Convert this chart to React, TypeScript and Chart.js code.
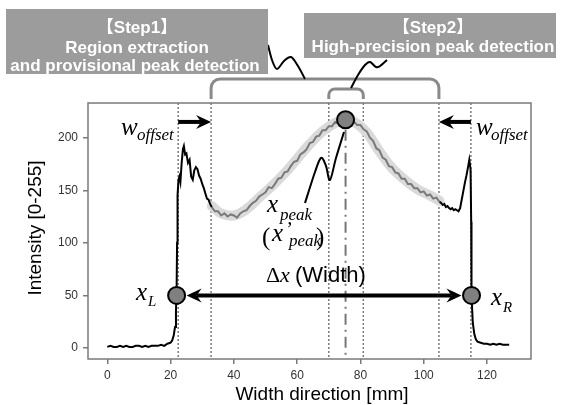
import React, { useEffect, useRef } from "react";
import { Chart, registerables } from "chart.js";

Chart.register(...registerables);

// ---------- data ----------
const xTickValues = [0, 20, 40, 60, 80, 100, 120];
const yTickValues = [0, 50, 100, 150, 200];

// left edge region (black)
const leftX = [0, 1, 2, 3, 4, 5, 6, 7, 8, 9, 10, 11, 12, 13, 14, 15, 16, 17, 18, 19, 20,
  20.5, 21, 21.4, 21.7, 21.9, 22.05, 22.2, 22.5, 22.8, 23.1, 23.5, 23.9, 24.2, 24.6,
  25, 25.5, 26, 26.5, 27, 27.5, 28, 28.5, 29, 29.5, 30, 30.5, 31, 31.5, 32, 32.5, 33];
const leftY = [1, 2, 1, 1, 2, 1, 2, 1, 1, 2, 2, 1, 2, 1, 2, 2, 2, 3, 2, 4, 5,
  7, 12, 20, 35, 55, 100, 145, 160, 163, 158, 176, 189, 192, 184,
  185, 176, 179, 163, 160, 169, 172, 170, 164, 161, 156, 152, 147, 142, 141, 137, 134];

// middle region (grey, measured)
const midX = [33, 34, 35, 36, 37, 38, 39, 40, 41, 42, 43, 44, 45, 46, 47, 48, 49, 50, 51, 52,
  53, 54, 55, 56, 57, 58, 59, 60, 61, 62, 63, 64, 65, 66, 67, 68, 69, 70, 71, 72,
  73, 74, 75, 76, 77, 78, 79, 80, 81, 82, 83, 84, 85, 86, 87, 88, 89, 90, 91, 92,
  93, 94, 95, 96, 97, 98, 99, 100, 101, 102, 103, 104, 105];
const midY = [134, 130, 130, 126, 128, 125, 127, 126, 124, 128, 130, 131, 135, 138, 140, 144, 146, 148, 153, 152,
  156, 161, 162, 167, 168, 173, 177, 178, 184, 186, 189, 195, 196, 201, 202, 207, 207, 211, 211, 215,
  214, 217, 216, 218, 215, 215, 212, 212, 208, 206, 200, 197, 190, 188, 181, 179, 173, 172, 167, 166,
  161, 161, 156, 156, 152, 152, 148, 149, 145, 146, 142, 143, 139];

// right edge region (black)
const rightX = [105, 105.5, 106, 106.5, 107, 107.5, 108, 108.5, 109, 109.5, 110, 110.5, 111, 111.5,
  112, 112.5, 113, 113.5, 114, 114.4, 114.8, 115, 115.1, 115.5, 116, 116.5, 117,
  118, 119, 120, 121, 122, 123, 124, 125, 126, 127];
const rightY = [139, 138, 136, 137, 134, 135, 133, 132, 133, 131, 132, 131, 130, 133,
  141, 149, 157, 164, 172, 179, 170, 120, 50, 24, 13, 8, 6,
  5, 4, 4, 3, 4, 3, 4, 3, 3, 3];

// smooth fitted curve (light grey band)
const fitX = [33, 36, 40, 44, 48, 52, 56, 60, 64, 68, 72, 75, 78, 82, 86, 90, 94, 98, 102, 105];
const fitY = [135, 128, 126, 132, 143, 154, 166, 180, 194, 206, 214, 217, 215, 205, 187, 171, 160, 151, 145, 140];

// markers
const boundaryX = [22.4, 32.8, 70, 80.9, 104.8, 114.9];
const peakX = 75.3;
const peakY = 217;
const edgeLX = 21.9;
const edgeRX = 115.1;
const edgeY = 50;
const offsetArrowY = 215;

const SANS = "'Liberation Sans', Arial, 'Noto Sans CJK JP', sans-serif";
const SERIF = "'Liberation Serif', 'Times New Roman', serif";

function pts(xs: number[], ys: number[]) {
  return xs.map((v, i) => ({ x: v, y: ys[i] }));
}

function arrowHead(ctx: CanvasRenderingContext2D, tipX: number, tipY: number, dir: number) {
  const L = 15, W = 7, notch = 5;
  ctx.beginPath();
  ctx.moveTo(tipX, tipY);
  ctx.lineTo(tipX - dir * L, tipY - W);
  ctx.lineTo(tipX - dir * (L - notch), tipY);
  ctx.lineTo(tipX - dir * L, tipY + W);
  ctx.closePath();
  ctx.fill();
}

function arrow(ctx: CanvasRenderingContext2D, x1: number, x2: number, y: number, both: boolean) {
  const dir = x2 > x1 ? 1 : -1;
  ctx.save();
  ctx.strokeStyle = "#000";
  ctx.fillStyle = "#000";
  ctx.lineWidth = 4;
  ctx.beginPath();
  ctx.moveTo(both ? x1 + dir * 10 : x1, y);
  ctx.lineTo(x2 - dir * 10, y);
  ctx.stroke();
  arrowHead(ctx, x2, y, dir);
  if (both) arrowHead(ctx, x1, y, -dir);
  ctx.restore();
}

function smoothLine(ctx: CanvasRenderingContext2D, p: number[][]) {
  ctx.beginPath();
  ctx.moveTo(p[0][0], p[0][1]);
  for (let i = 0; i < p.length - 1; i++) {
    const p0 = p[i - 1] || p[i];
    const p1 = p[i];
    const p2 = p[i + 1];
    const p3 = p[i + 2] || p2;
    ctx.bezierCurveTo(
      p1[0] + (p2[0] - p0[0]) / 6, p1[1] + (p2[1] - p0[1]) / 6,
      p2[0] - (p3[0] - p1[0]) / 6, p2[1] - (p3[1] - p1[1]) / 6,
      p2[0], p2[1]
    );
  }
  ctx.stroke();
}

function bracket(ctx: CanvasRenderingContext2D, x1: number, x2: number, yTop: number, yBot: number, r: number) {
  ctx.beginPath();
  ctx.moveTo(x1, yBot);
  ctx.lineTo(x1, yTop + r);
  ctx.arcTo(x1, yTop, x1 + r, yTop, r);
  ctx.lineTo(x2 - r, yTop);
  ctx.arcTo(x2, yTop, x2, yTop + r, r);
  ctx.lineTo(x2, yBot);
  ctx.stroke();
}

function txt(ctx: CanvasRenderingContext2D, s: string, x: number, y: number, font: string, align: CanvasTextAlign = "left", color = "#000") {
  ctx.font = font;
  ctx.textAlign = align;
  ctx.textBaseline = "alphabetic";
  ctx.fillStyle = color;
  ctx.fillText(s, x, y);
}

const annotPlugin = {
  id: "annot",
  beforeDatasetsDraw(chart: any) {
    const { ctx, chartArea: a, scales } = chart;
    const xs = scales.x, ys = scales.y;
    ctx.save();
    ctx.strokeStyle = "#7a7a7a";
    ctx.lineWidth = 1.5;
    ctx.setLineDash([2, 2]);
    boundaryX.forEach((v) => {
      const p = xs.getPixelForValue(v);
      ctx.beginPath();
      ctx.moveTo(p, a.top);
      ctx.lineTo(p, a.bottom);
      ctx.stroke();
    });
    ctx.setLineDash([11, 5, 2, 5]);
    ctx.lineWidth = 2;
    ctx.strokeStyle = "#777";
    const pp = xs.getPixelForValue(peakX);
    ctx.beginPath();
    ctx.moveTo(pp, ys.getPixelForValue(peakY) + 10);
    ctx.lineTo(pp, a.bottom);
    ctx.stroke();
    ctx.restore();
  },
  afterDraw(chart: any) {
    const { ctx, chartArea: a, scales } = chart;
    const xs = scales.x, ys = scales.y;
    const X = (v: number) => xs.getPixelForValue(v);
    const Y = (v: number) => ys.getPixelForValue(v);
    ctx.save();

    // frame
    ctx.strokeStyle = "#7a7a7a";
    ctx.lineWidth = 1.5;
    ctx.strokeRect(a.left, a.top, a.right - a.left, a.bottom - a.top);

    // axis titles
    txt(ctx, "Width direction [mm]", 322, 400, `19px ${SANS}`, "center");
    ctx.save();
    ctx.translate(40.5, (a.top + a.bottom) / 2 - 3);
    ctx.rotate(-Math.PI / 2);
    txt(ctx, "Intensity [0-255]", 0, 0, `19px ${SANS}`, "center");
    ctx.restore();

    // arrows
    arrow(ctx, X(boundaryX[0]), X(boundaryX[1]), Y(offsetArrowY), false);
    arrow(ctx, X(boundaryX[5]), X(boundaryX[4]), Y(offsetArrowY), false);
    arrow(ctx, X(edgeLX) + 10, X(edgeRX) - 10, Y(edgeY), true);

    // wavy connector: label -> peak
    ctx.strokeStyle = "#000";
    ctx.lineWidth = 2;
    smoothLine(ctx, [[305, 203], [315, 172], [321, 158], [326, 166], [330, 180], [336, 158], [344, 132]]);

    // circles
    const circle = (cx: number, cy: number) => {
      ctx.beginPath();
      ctx.arc(cx, cy, 8.5, 0, Math.PI * 2);
      ctx.fillStyle = "#808080";
      ctx.fill();
      ctx.lineWidth = 2;
      ctx.strokeStyle = "#000";
      ctx.stroke();
    };
    circle(X(peakX), Y(peakY));
    circle(X(edgeLX), Y(edgeY));
    circle(X(edgeRX), Y(edgeY));

    // math labels
    const it = (s: number) => `italic ${s}px ${SERIF}`;
    txt(ctx, "w", 121, 135, it(25));
    txt(ctx, "offset", 137, 140, it(17));
    txt(ctx, "w", 476, 135, it(25));
    txt(ctx, "offset", 491, 140, it(17));
    txt(ctx, "x", 136, 300, it(25));
    txt(ctx, "L", 148, 306, it(15));
    txt(ctx, "x", 491, 305, it(25));
    txt(ctx, "R", 503, 312, it(15));
    txt(ctx, "x", 267, 212, it(25));
    txt(ctx, "peak", 280, 220, it(17));
    txt(ctx, "(", 262, 245, `25px ${SERIF}`);
    txt(ctx, "x", 272, 241, it(25));
    txt(ctx, "\u2019", 285, 236, it(20));
    txt(ctx, "peak", 289, 246, it(17));
    txt(ctx, ")", 316, 245, `25px ${SERIF}`);
    txt(ctx, "\u0394", 266, 282, `22px ${SERIF}`);
    txt(ctx, "x", 280, 282, it(22));
    txt(ctx, "(Width)", 295, 282, `22px ${SANS}`);

    // brackets
    ctx.strokeStyle = "#8a8a8a";
    ctx.lineWidth = 3;
    bracket(ctx, X(boundaryX[1]), X(boundaryX[4]), 79, 99, 9);
    bracket(ctx, X(boundaryX[2]), X(boundaryX[3]), 89, 99, 6);

    // wavy connectors from boxes
    ctx.strokeStyle = "#000";
    ctx.lineWidth = 2;
    smoothLine(ctx, [[268, 45], [272, 60], [277, 69], [284, 61], [291, 57], [298, 66], [305, 79]]);
    smoothLine(ctx, [[351, 88], [358, 75], [365, 65], [370, 62], [376, 67], [380, 66], [387, 60]]);

    // step boxes
    ctx.fillStyle = "#9c9c9c";
    ctx.fillRect(6, 9, 262, 65);
    ctx.fillRect(304, 13, 252, 45);
    const bold = `bold 17px ${SANS}`;
    txt(ctx, "\u3010Step1\u3011", 137, 33, bold, "center", "#fff");
    txt(ctx, "Region extraction", 137, 53, bold, "center", "#fff");
    txt(ctx, "and provisional peak detection", 135, 71, bold, "center", "#fff");
    txt(ctx, "\u3010Step2\u3011", 433, 33, bold, "center", "#fff");
    txt(ctx, "High-precision peak detection", 433, 52, bold, "center", "#fff");

    ctx.restore();
  },
};

export default function App() {
  const ref = useRef<HTMLCanvasElement | null>(null);
  useEffect(() => {
    if (!ref.current) return;
    const tickFont = { family: SANS, size: 12 };
    const chart = new Chart(ref.current, {
      type: "line",
      data: {
        datasets: [
          { data: pts(leftX, leftY), borderColor: "#000", borderWidth: 2, pointRadius: 0, tension: 0 },
          { data: pts(rightX, rightY), borderColor: "#000", borderWidth: 2, pointRadius: 0, tension: 0 },
          { data: pts(midX, midY), borderColor: "#7a7a7a", borderWidth: 2, pointRadius: 0, tension: 0 },
          { data: pts(fitX, fitY), borderColor: "#dadada", borderWidth: 10, pointRadius: 0, tension: 0.4, borderCapStyle: "round" },
        ],
      } as any,
      options: {
        animation: false,
        responsive: false,
        events: [],
        layout: { padding: { left: 0, right: 30, top: 103, bottom: 0 } },
        plugins: { legend: { display: false }, tooltip: { enabled: false } },
        scales: {
          x: {
            type: "linear",
            min: -6.1,
            max: 133.9,
            afterBuildTicks: (s: any) => { s.ticks = xTickValues.map((v) => ({ value: v })); },
            afterFit: (s: any) => { s.height = 46; },
            grid: { drawOnChartArea: false, color: "#7a7a7a", tickLength: 5, lineWidth: 1.5 },
            border: { display: false },
            ticks: { font: tickFont, color: "#333", padding: 4, maxRotation: 0 },
          },
          y: {
            type: "linear",
            min: -10.5,
            max: 233,
            afterBuildTicks: (s: any) => { s.ticks = yTickValues.map((v) => ({ value: v })); },
            afterFit: (s: any) => { s.width = 88; },
            grid: { drawOnChartArea: false, color: "#7a7a7a", tickLength: 5, lineWidth: 1.5 },
            border: { display: false },
            ticks: { font: tickFont, color: "#333", padding: 5 },
          },
        },
      } as any,
      plugins: [annotPlugin],
    });
    return () => chart.destroy();
  }, []);
  return (
    <canvas
      ref={ref}
      width={561}
      height={405}
      style={{ position: "absolute", left: 0, top: 0, width: 561, height: 405, display: "block" }}
    />
  );
}
